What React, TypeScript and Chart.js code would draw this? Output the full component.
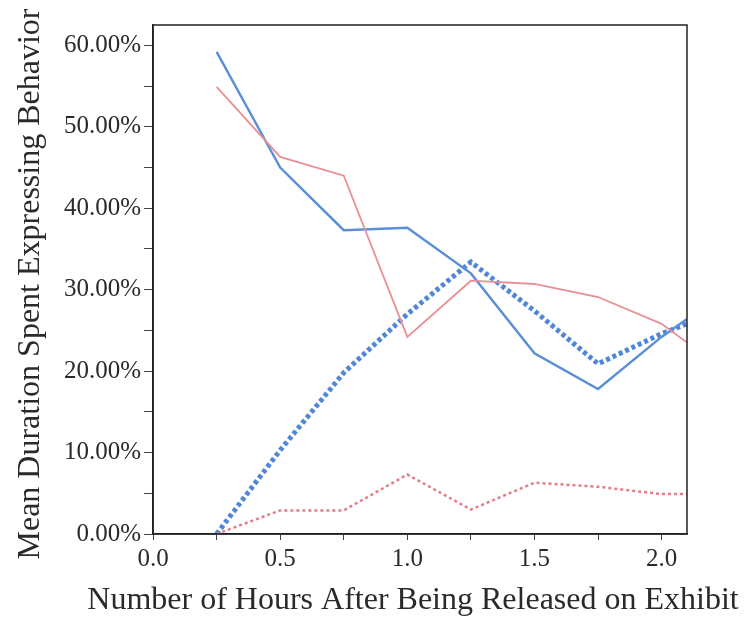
import React, { useEffect, useRef } from "react";
import { Chart, registerables } from "chart.js";

Chart.register(...registerables);

const hours = [0.25, 0.5, 0.75, 1.0, 1.25, 1.5, 1.75, 2.0, 2.1];
const blueSolid = [59.2, 45.0, 37.3, 37.6, 32.0, 22.2, 17.8, 24.2, 26.4];
const redSolid = [54.9, 46.3, 44.0, 24.2, 31.1, 30.7, 29.1, 25.8, 23.5];
const blueDotted = [0.0, 10.3, 19.8, 27.0, 33.4, 27.4, 20.9, 24.6, 25.8];
const redDotted = [0.0, 2.9, 2.9, 7.3, 3.0, 6.3, 5.8, 4.9, 4.9];

const xTitle = "Number of Hours After Being Released on Exhibit";
const yTitle = "Mean Duration Spent Expressing Behavior";

const toPts = (ys: number[]) => hours.map((x, i) => ({ x, y: ys[i] }));
const FONT = "'Liberation Serif', 'Times New Roman', serif";

const boxPlugin = {
  id: "box",
  afterDraw(chart: any) {
    const { ctx, chartArea } = chart;
    ctx.save();
    ctx.strokeStyle = "#222";
    ctx.lineWidth = 1.5;
    ctx.strokeRect(chartArea.left, chartArea.top, chartArea.right - chartArea.left, chartArea.bottom - chartArea.top);
    ctx.fillStyle = "#2a2a2a";
    ctx.font = `32px ${FONT}`;
    ctx.textAlign = "center";
    ctx.textBaseline = "middle";
    ctx.fillText(xTitle, 413, 601);
    ctx.translate(31, 284);
    ctx.rotate(-Math.PI / 2);
    ctx.fillText(yTitle, 0, 0);
    ctx.restore();
  },
};

export default function App() {
  const ref = useRef<HTMLCanvasElement>(null);
  useEffect(() => {
    const chart = new Chart(ref.current!, {
      type: "line",
      data: {
        datasets: [
          { data: toPts(redSolid), borderColor: "#e98f95", borderWidth: 1.8, pointRadius: 0, tension: 0 },
          { data: toPts(blueSolid), borderColor: "#5a8fd8", borderWidth: 2.4, pointRadius: 0, tension: 0 },
          { data: toPts(redDotted), borderColor: "#e27d8a", borderWidth: 2.5, borderDash: [3, 3], pointRadius: 0, tension: 0 },
          { data: toPts(blueDotted), borderColor: "#4f86d8", borderWidth: 5, borderDash: [4, 3], pointRadius: 0, tension: 0 },
        ],
      },
      options: {
        animation: false,
        responsive: false,
        layout: { padding: { top: 25, right: 58, left: 61, bottom: 43 } },
        plugins: { legend: { display: false }, tooltip: { enabled: false } },
        scales: {
          x: {
            type: "linear",
            min: 0,
            max: 2.1,
            border: { display: true, color: "#222", width: 1.5 },
            grid: { drawOnChartArea: false, drawTicks: true, tickLength: 6, color: "#444" },
            ticks: {
              stepSize: 0.25,
              includeBounds: false,
              autoSkip: false,
              maxRotation: 0,
              color: "#2a2a2a",
              font: { family: FONT, size: 25 },
              padding: 4,
              callback: (v: any) => (Math.abs((v * 2) - Math.round(v * 2)) < 1e-6 ? Number(v).toFixed(1) : ""),
            },
          },
          y: {
            min: 0,
            max: 62.5,
            border: { display: true, color: "#222", width: 1.5 },
            grid: { drawOnChartArea: false, drawTicks: true, tickLength: 9, color: "#444" },
            ticks: {
              stepSize: 5,
              includeBounds: false,
              autoSkip: false,
              color: "#2a2a2a",
              font: { family: FONT, size: 25 },
              padding: 3,
              callback: (v: any) => (Math.round(v) % 10 === 0 ? Number(v).toFixed(2) + "%" : ""),
            },
          },
        },
      },
      plugins: [boxPlugin],
    });
    return () => chart.destroy();
  }, []);
  return (
    <div style={{ position: "fixed", left: 0, top: 0, width: 745, height: 621, background: "#fff" }}>
      <canvas ref={ref} width={745} height={621} />
    </div>
  );
}
